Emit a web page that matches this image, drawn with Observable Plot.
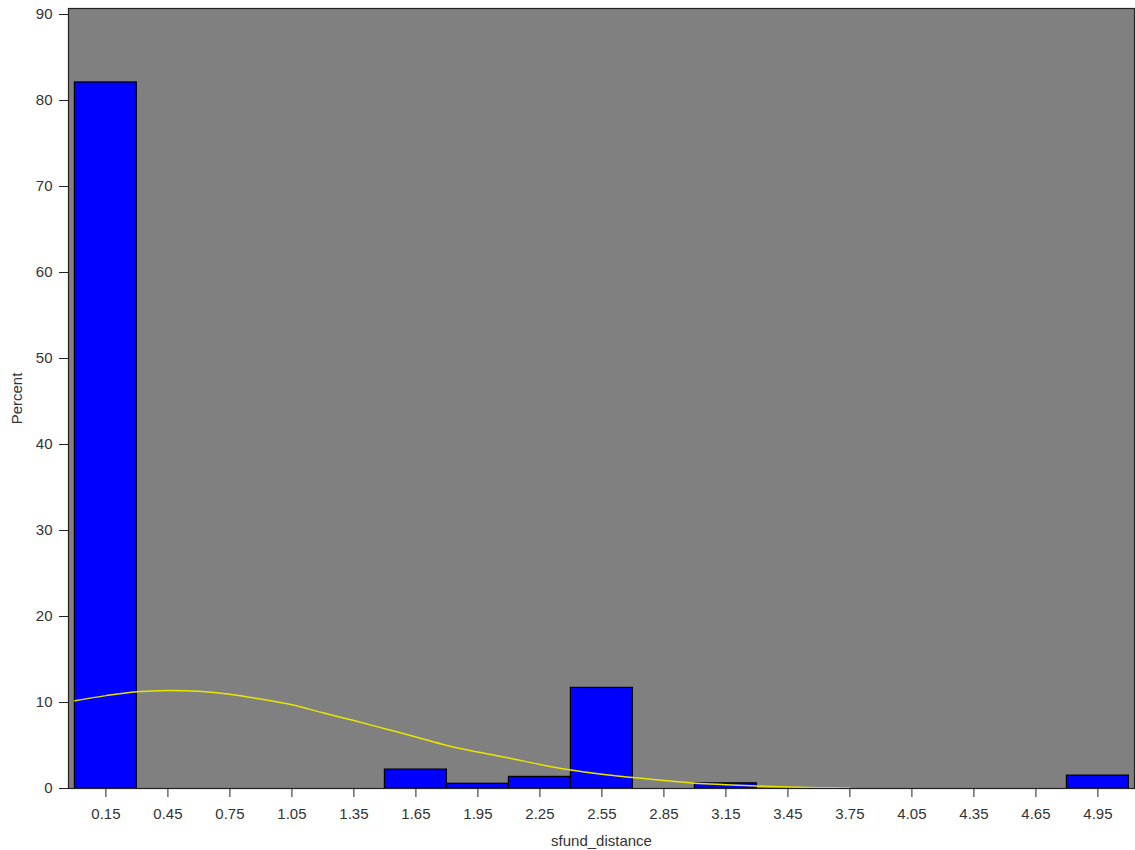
<!DOCTYPE html>
<html>
<head>
<meta charset="utf-8">
<script src="https://cdn.jsdelivr.net/npm/d3@7"></script>
<script src="https://cdn.jsdelivr.net/npm/@observablehq/plot@0.6"></script>
<style>
  html, body { margin: 0; padding: 0; background: #fff; }
</style>
</head>
<body>
<div id="chart"></div>
<script>
// Histogram bins (midpoints) and percents
const binMids = [0.15, 1.65, 1.95, 2.25, 2.55, 3.15, 4.95];
const percents = [82.1, 2.2, 0.55, 1.35, 11.7, 0.6, 1.5];
const binWidth = 0.3;

// Fitted curve
const curveX = [0, 0.15, 0.3, 0.45, 0.6, 0.75, 0.9, 1.05, 1.2, 1.35, 1.5, 1.65, 1.8, 1.95, 2.1, 2.25, 2.4, 2.55, 2.7, 2.85, 3.0, 3.15, 3.3, 3.45, 3.6, 3.75];
const curveY = [10.2, 10.8, 11.25, 11.4, 11.3, 10.97, 10.4, 9.75, 8.8, 7.9, 6.95, 6.0, 5.0, 4.25, 3.55, 2.8, 2.15, 1.65, 1.28, 0.93, 0.62, 0.45, 0.3, 0.17, 0.1, 0.06];

const xTicks = [0.15, 0.45, 0.75, 1.05, 1.35, 1.65, 1.95, 2.25, 2.55, 2.85, 3.15, 3.45, 3.75, 4.05, 4.35, 4.65, 4.95];
const yTicks = [0, 10, 20, 30, 40, 50, 60, 70, 80, 90];

const bars = binMids.map((m, i) => ({x1: m - binWidth / 2, x2: m + binWidth / 2, y: percents[i]}));
const curve = curveX.map((x, i) => ({x, y: curveY[i]}));

const chart = Plot.plot({
  width: 1135,
  height: 850,
  marginLeft: 68,
  marginRight: 1,
  marginTop: 8,
  marginBottom: 62,
  style: {fontFamily: "'Liberation Sans', Arial, sans-serif", fontSize: "15px", color: "#333", background: "#fff"},
  x: {domain: [-0.031, 5.127]},
  y: {domain: [0, 90.7]},
  marks: [
    Plot.frame({fill: "#808080", stroke: null}),
    Plot.rectY(bars, {x1: "x1", x2: "x2", y: "y", fill: "#0000ff", stroke: "#000", strokeWidth: 1.2}),
    Plot.line(curve, {x: "x", y: "y", stroke: "#e6e600", strokeWidth: 1.5, curve: "catmull-rom"}),
    Plot.frame({stroke: "#222", strokeWidth: 1.2}),
    Plot.axisX({ticks: xTicks, tickFormat: d => d.toFixed(2), tickSize: 9, tickPadding: 11, label: null, stroke: "#222"}),
    Plot.axisY({ticks: yTicks, tickFormat: d => String(d), tickSize: 9, tickPadding: 7, label: null, stroke: "#222"}),
    Plot.text(["sfund_distance"], {frameAnchor: "bottom", dy: 53, lineAnchor: "middle", fill: "#333", fontSize: 15}),
    Plot.text(["Percent"], {frameAnchor: "left", dx: -51, rotate: -90, textAnchor: "middle", lineAnchor: "middle", fill: "#333", fontSize: 15})
  ]
});
document.getElementById("chart").appendChild(chart);
</script>
</body>
</html>
